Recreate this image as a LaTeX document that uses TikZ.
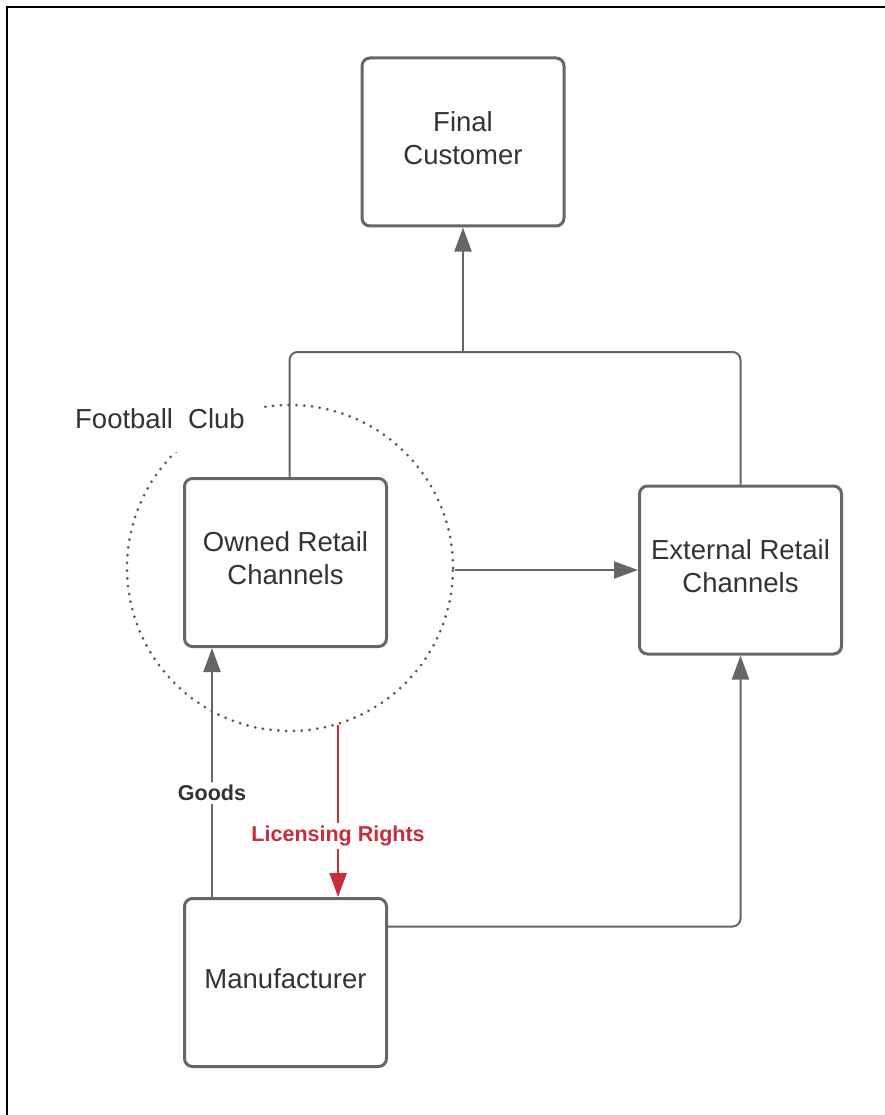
\documentclass[tikz,border=0pt]{standalone}
\usepackage{fontspec}
\setmainfont{Liberation Sans}
\usetikzlibrary{arrows.meta}

\definecolor{linegray}{HTML}{666666}
\definecolor{dotgray}{HTML}{555555}
\definecolor{textgray}{HTML}{333333}
\definecolor{licred}{HTML}{C92D39}

\tikzset{
  box/.style={draw=linegray, line width=3pt, rounded corners=8pt,
    minimum width=202pt, minimum height=168pt, inner sep=0pt,
    align=center, text=textgray, text depth=8pt,
    font=\fontsize{27.5}{33}\selectfont},
  link/.style={draw=linegray, line width=2pt, rounded corners=8pt},
  tip/.style={-{Triangle[length=24pt,width=17pt]}},
  flowlabel/.style={fill=white, inner sep=3pt, text=textgray,
    font=\bfseries\fontsize{21.5}{26}\selectfont}
}

\begin{document}
\begin{tikzpicture}[x=1pt,y=-1pt]

\useasboundingbox (0,0) rectangle (885,1115);

%% frame
\draw[line width=2.5pt] (7,1115) -- (7,7) -- (885,7);

%% boxes
\node[box] (final) at (463,142) {Final\\Customer};
\node[box] (owned) at (285.5,562.5) {Owned Retail\\Channels};
\node[box] (external) at (740.5,570) {External Retail\\Channels};
\node[box] (manuf) at (285.5,982.5) {Manufacturer};

%% football club
\node[circle, draw=dotgray, line width=3pt, line cap=round,
  dash pattern=on 0pt off 7.8pt, minimum size=326pt] (club) at (290,568) {};
\node[fill=white, inner xsep=15pt, minimum height=66pt, text=textgray,
  font=\fontsize{27.5}{33}\selectfont] (clublabel) at (160,419) {Football\ \ Club};

%% to the customer
\coordinate (join) at (463,352);
\draw[link] ([xshift=4pt]owned.north) |- (join);
\draw[link] (external.north) |- (join);
\draw[link,tip] (join) -- (final.south);

%% club to external retail
\draw[link,tip] (club.east |- external.west) -- (external.west);

%% manufacturer
\draw[link,tip] ([xshift=-73.5pt]manuf.north) -- ([xshift=-73.5pt]owned.south)
  node[flowlabel, pos=0.417] (goods) {Goods};
\draw[link,tip] ([yshift=56pt]manuf.east) -| (external.south);
\draw[draw=licred, line width=2pt, tip, fill=licred] (club.-73) -- (club.-73 |- manuf.north)
  node[flowlabel, text=licred, pos=0.645] (rights) {Licensing Rights};

\end{tikzpicture}
\end{document}
